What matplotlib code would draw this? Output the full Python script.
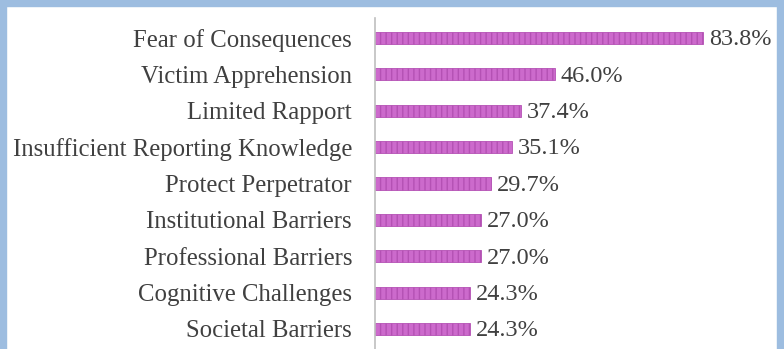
# Horizontal bar chart of reporting barriers

import matplotlib
matplotlib.use('Agg')
import matplotlib.pyplot as plt
from matplotlib.patches import Rectangle

categories = ['Fear of Consequences', 'Victim Apprehension', 'Limited Rapport',
              'Insufficient Reporting Knowledge', 'Protect Perpetrator',
              'Institutional Barriers', 'Professional Barriers',
              'Cognitive Challenges', 'Societal Barriers']
values = [83.8, 46.0, 37.4, 35.1, 29.7, 27.0, 27.0, 24.3, 24.3]

plt.rcParams['font.family'] = ['Liberation Serif', 'DejaVu Serif']
plt.rcParams['hatch.linewidth'] = 1.0

fig = plt.figure(figsize=(7.84, 3.49), dpi=100)
ax = fig.add_axes([375 / 784, 0.0, 391.4 / 784, 331 / 349])

ypos = list(range(len(categories)))[::-1]
bars = ax.barh(ypos, values, height=0.33, color='#cc6acc', edgecolor='#b451b4',
               hatch='|||', linewidth=0.6)

for y, v in zip(ypos, values):
    ax.text(v + 1.5, y - 0.05, f'{v:.1f}%', va='center', ha='left',
            fontsize=17.5, color='#404040')

ax.set_xlim(0, 100)
ax.set_ylim(-0.55, 8.55)
ax.set_yticks(ypos)
ax.set_yticklabels(categories, fontsize=17.8, color='#404040')
ax.tick_params(axis='y', length=0, pad=16.5)
ax.set_xticks([])
for s in ['top', 'right', 'bottom']:
    ax.spines[s].set_visible(False)
ax.spines['left'].set_color('#bfbfbf')
ax.spines['left'].set_linewidth(1.2)

# blue frame around the picture
W, H = 784, 349
frame = '#9dbde0'
for x, y, w, h in [(0, 0, 6 / W, 1), (0, 1 - 6 / H, 1, 6 / H), (1 - 7 / W, 0, 7 / W, 1)]:
    fig.patches.append(Rectangle((x, y), w, h, transform=fig.transFigure,
                                 color=frame, zorder=10))

fig.savefig('out.png', dpi=100)
